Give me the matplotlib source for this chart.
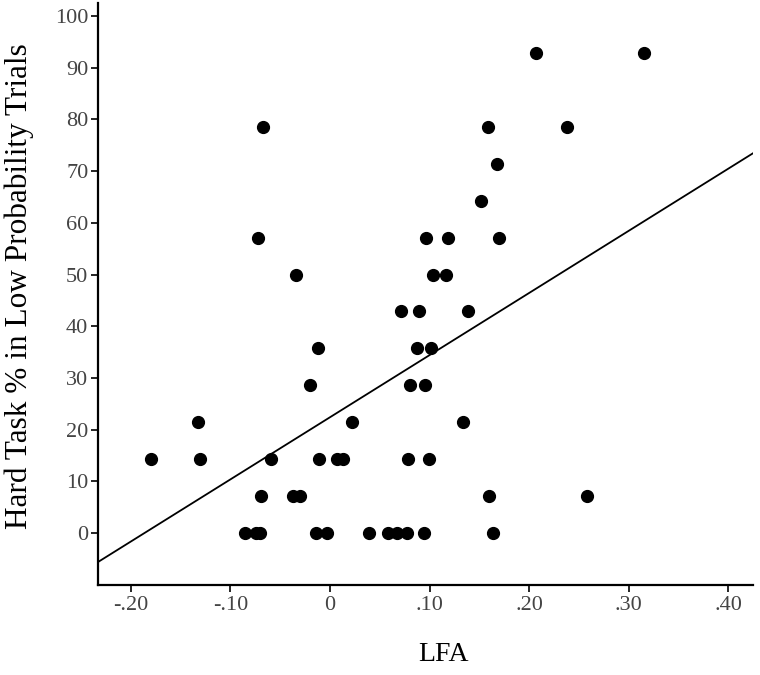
import matplotlib
matplotlib.use("Agg")
import matplotlib.pyplot as plt
import numpy as np

# Data (LFA vs. Hard Task % in low-probability trials)
lfa = [
    -0.085, -0.074, -0.070, -0.014, -0.003, 0.039, 0.058, 0.067, 0.077, 0.094, 0.164,   # 0
    -0.069, -0.037, -0.030, 0.160, 0.258,                                              # 7.14
    -0.180, -0.131, -0.059, -0.011, 0.007, 0.013, 0.078, 0.099,                        # 14.29
    -0.133, 0.022, 0.134,                                                              # 21.43
    -0.020, 0.080, 0.095,                                                              # 28.57
    -0.012, 0.087, 0.101,                                                              # 35.71
    0.071, 0.089, 0.139,                                                               # 42.86
    -0.034, 0.103, 0.116,                                                              # 50
    -0.072, 0.096, 0.118, 0.170,                                                       # 57.14
    0.152,                                                                             # 64.29
    0.168,                                                                             # 71.43
    -0.067, 0.159, 0.238,                                                              # 78.57
    0.207, 0.315,                                                                      # 92.86
]
hard_pct = (
    [0.0] * 11 + [7.14] * 5 + [14.29] * 8 + [21.43] * 3 + [28.57] * 3 + [35.71] * 3
    + [42.86] * 3 + [50.0] * 3 + [57.14] * 4 + [64.29] + [71.43] + [78.57] * 3 + [92.86] * 2
)

# Fitted regression line
fit_intercept = 22.4
fit_slope = 120.2

x_ticks = [-0.20, -0.10, 0.0, 0.10, 0.20, 0.30, 0.40]
x_tick_labels = ["-.20", "-.10", "0", ".10", ".20", ".30", ".40"]
y_ticks = [0, 10, 20, 30, 40, 50, 60, 70, 80, 90, 100]
y_tick_labels = [str(v) for v in y_ticks]

plt.rcParams['font.family'] = ['Liberation Serif', 'DejaVu Serif']

fig = plt.figure(figsize=(7.6, 6.75), dpi=100)
ax = fig.add_axes([0.129, 0.1333, 0.862, 0.862])

ax.plot(lfa, hard_pct, 'o', color='black', ms=8.5, mec='black', zorder=3)
ax.axline((0, fit_intercept), slope=fit_slope, color='black', lw=1.3, zorder=2)

ax.set_xlim(-0.233, 0.425)
ax.set_ylim(-10.06, 102.5)

ax.set_xticks(x_ticks)
ax.set_xticklabels(x_tick_labels)
ax.set_yticks(y_ticks)
ax.set_yticklabels(y_tick_labels)

for s in ['top', 'right']:
    ax.spines[s].set_visible(False)
for s in ['left', 'bottom']:
    ax.spines[s].set_linewidth(1.6)
    ax.spines[s].set_color('black')

ax.tick_params(axis='y', direction='out', length=5, width=1.2, labelsize=16,
               labelcolor='#444444', pad=2)
ax.tick_params(axis='x', direction='out', length=5, width=1.2, labelsize=16,
               labelcolor='#444444', pad=3)

ax.set_xlabel("LFA", fontsize=20)
ax.xaxis.set_label_coords(0.527, -0.098)
ax.set_ylabel("Hard Task % in Low Probability Trials", fontsize=22.5)
ax.yaxis.set_label_coords(-0.098, 0.513)

fig.savefig("out.png", dpi=100)
